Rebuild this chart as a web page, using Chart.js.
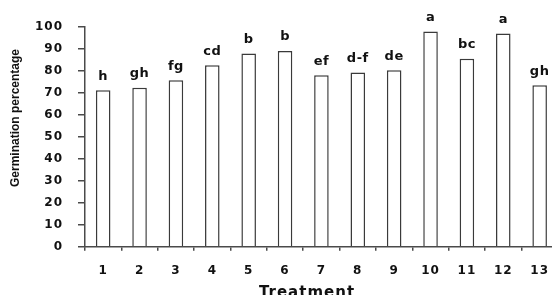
<!DOCTYPE html>
<html>
<head>
<meta charset="utf-8">
<script src="https://cdn.jsdelivr.net/npm/chart.js@4"></script>
<style>
  html, body { margin: 0; padding: 0; background: #fff; overflow: hidden; }
  #wrap { width: 552px; height: 295px; overflow: hidden; position: relative; }
  canvas { display: block; }
</style>
</head>
<body>
<div id="wrap"><canvas id="germChart" width="561" height="295"></canvas></div>
<script>
// treatments on the x axis
var treatments = ['1', '2', '3', '4', '5', '6', '7', '8', '9', '10', '11', '12', '13'];
// germination percentage per treatment
var germination = [71.2, 72.3, 75.8, 82.6, 87.9, 89.1, 78.0, 79.3, 80.3, 98.0, 85.6, 97.0, 73.5];
// significance letters above bars
var groupLetters = ['h', 'gh', 'fg', 'cd', 'b', 'b', 'ef', 'd-f', 'de', 'a', 'bc', 'a', 'gh'];
var yTicks = [0, 10, 20, 30, 40, 50, 60, 70, 80, 90, 100];

var axisColor = '#4a4a4a';
var tickFont = { family: 'DejaVu Sans', size: 12, weight: 'bold' };

// slightly wider text like the original
var spacing = {
    id: 'spacing',
    beforeInit: function (chart) { chart.ctx.letterSpacing = '1px'; },
    beforeDraw: function (chart) { chart.ctx.letterSpacing = '1px'; }
};

var extras = {
    id: 'extras',
    afterDatasetsDraw: function (chart) {
        var ctx = chart.ctx;
        var bars = chart.getDatasetMeta(0).data;
        ctx.save();
        ctx.letterSpacing = '0.5px';
        ctx.fillStyle = '#111';
        ctx.font = 'bold 13px "DejaVu Sans"';
        ctx.textAlign = 'center';
        ctx.textBaseline = 'alphabetic';
        bars.forEach(function (bar, i) {
            ctx.fillText(groupLetters[i], bar.x, bar.y - 10.5);
        });
        ctx.restore();

        // axis titles
        ctx.save();
        ctx.fillStyle = '#111';
        ctx.letterSpacing = '1px';
        ctx.font = 'bold 15px "DejaVu Sans"';
        ctx.textAlign = 'center';
        ctx.textBaseline = 'alphabetic';
        ctx.fillText('Treatment', 307, 297);
        ctx.restore();

        ctx.save();
        ctx.fillStyle = '#111';
        ctx.letterSpacing = '0px';
        ctx.font = 'bold 12px "Liberation Sans Narrow", "Liberation Sans", sans-serif';
        ctx.translate(16, 118);
        ctx.rotate(-Math.PI / 2);
        ctx.textAlign = 'center';
        ctx.textBaseline = 'middle';
        ctx.fillText('Germination percentage', 0, 0);
        ctx.restore();
    }
};

var ctx = document.getElementById('germChart').getContext('2d');
var chart = new Chart(ctx, {
    type: 'bar',
    data: {
        labels: treatments,
        datasets: [{
            data: germination,
            backgroundColor: '#ffffff',
            borderColor: '#3a3a3a',
            borderWidth: 1.5,
            barPercentage: 0.4,
            categoryPercentage: 1.0
        }]
    },
    options: {
        responsive: false,
        animation: false,
        devicePixelRatio: 1,
        layout: { padding: { top: 27, right: 0, left: 0, bottom: 0 } },
        plugins: {
            legend: { display: false },
            tooltip: { enabled: false }
        },
        scales: {
            x: {
                offset: true,
                grid: {
                    display: true,
                    offset: true,
                    drawOnChartArea: false,
                    drawTicks: true,
                    tickLength: 4,
                    color: axisColor,
                    lineWidth: 1.5
                },
                border: { display: true, color: axisColor, width: 1.5 },
                ticks: { color: '#111', font: tickFont, padding: 13, maxRotation: 0 },
                afterFit: function (s) { s.height = 48.3; }
            },
            y: {
                min: 0,
                max: 100,
                afterBuildTicks: function (s) {
                    s.ticks = yTicks.map(function (v) { return { value: v }; });
                },
                grid: {
                    display: true,
                    drawOnChartArea: false,
                    drawTicks: true,
                    tickLength: 7,
                    color: axisColor,
                    lineWidth: 1.5
                },
                border: { display: true, color: axisColor, width: 1.5 },
                ticks: { color: '#111', font: tickFont, padding: 15 },
                afterFit: function (s) { s.width = 85; }
            }
        }
    },
    plugins: [spacing, extras]
});
</script>
</body>
</html>
